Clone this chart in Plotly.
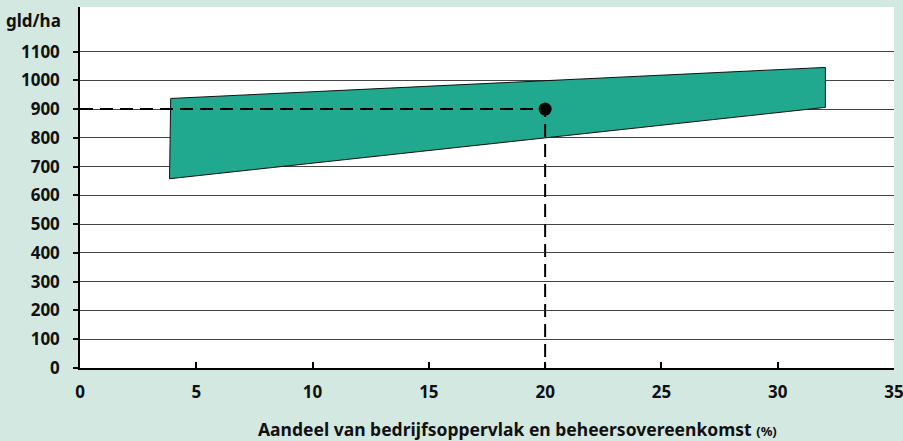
import plotly.graph_objects as go

# Band (polygon) vertices: share (%) vs gld/ha
band_x = [3.9, 32.05, 32.05, 3.85, 3.9]
band_y = [937, 1045, 906, 658, 937]

# Reference point and guide lines
point_x = [20]
point_y = [900]
guide_x = [0, 20, 20]
guide_y = [900, 900, 0]

y_ticks = [0, 100, 200, 300, 400, 500, 600, 700, 800, 900, 1000, 1100]
x_ticks = [0, 5, 10, 15, 20, 25, 30, 35]

BG = "#D3E8E1"
FONT = dict(family="Noto Sans, Lato, sans-serif", color="#111111", size=17, weight="bold")

fig = go.Figure()
fig.add_trace(go.Scatter(x=band_x, y=band_y, fill="toself", fillcolor="#21A98F",
                         mode="lines", line=dict(color="#111111", width=1),
                         hoverinfo="skip", showlegend=False))
fig.add_trace(go.Scatter(x=guide_x, y=guide_y, mode="lines",
                         line=dict(color="#000000", width=2, dash="13px,7px"),
                         showlegend=False))
fig.add_trace(go.Scatter(x=point_x, y=point_y, mode="markers",
                         marker=dict(color="#000000", size=13),
                         showlegend=False))

fig.update_layout(
    width=903, height=441,
    paper_bgcolor=BG, plot_bgcolor="#FFFFFF",
    margin=dict(l=80, r=9, t=7, b=73, autoexpand=False),
    font=FONT,
    showlegend=False,
    xaxis=dict(range=[0, 35], tickvals=x_ticks, showgrid=False, zeroline=False,
               automargin=False, ticklabeloverflow="allow",
               showline=True, linecolor="#000000", linewidth=1.5,
               ticks="inside", ticklen=6, tickcolor="#000000", tickwidth=1.5,
               tickfont=FONT, ticklabelstandoff=8),
    yaxis=dict(range=[0, 1255], tickvals=y_ticks, showgrid=True, gridcolor="#444444",
               gridwidth=1, zeroline=False, automargin=False,
               showline=True, linecolor="#000000", linewidth=1.5,
               ticks="outside", ticklen=5, tickcolor="#000000", tickwidth=1.5,
               tickfont=FONT, ticklabelstandoff=10),
    annotations=[
        dict(text="gld/ha", xref="paper", yref="paper", x=-0.021, y=1.0,
             xanchor="right", yanchor="top", showarrow=False, font=FONT),
        dict(text="Aandeel van bedrijfsoppervlak en beheersovereenkomst <span style='font-size:13px'>(%)</span>",
             xref="paper", yref="paper", x=0.5375, y=-0.168, xanchor="center", yanchor="middle",
             showarrow=False, font=dict(FONT, size=17.5)),
    ],
)

fig.write_html("out.html", config={"displayModeBar": False},
               post_script="document.body.style.margin='0';document.body.style.overflow='hidden';document.body.style.background='" + BG + "';")
